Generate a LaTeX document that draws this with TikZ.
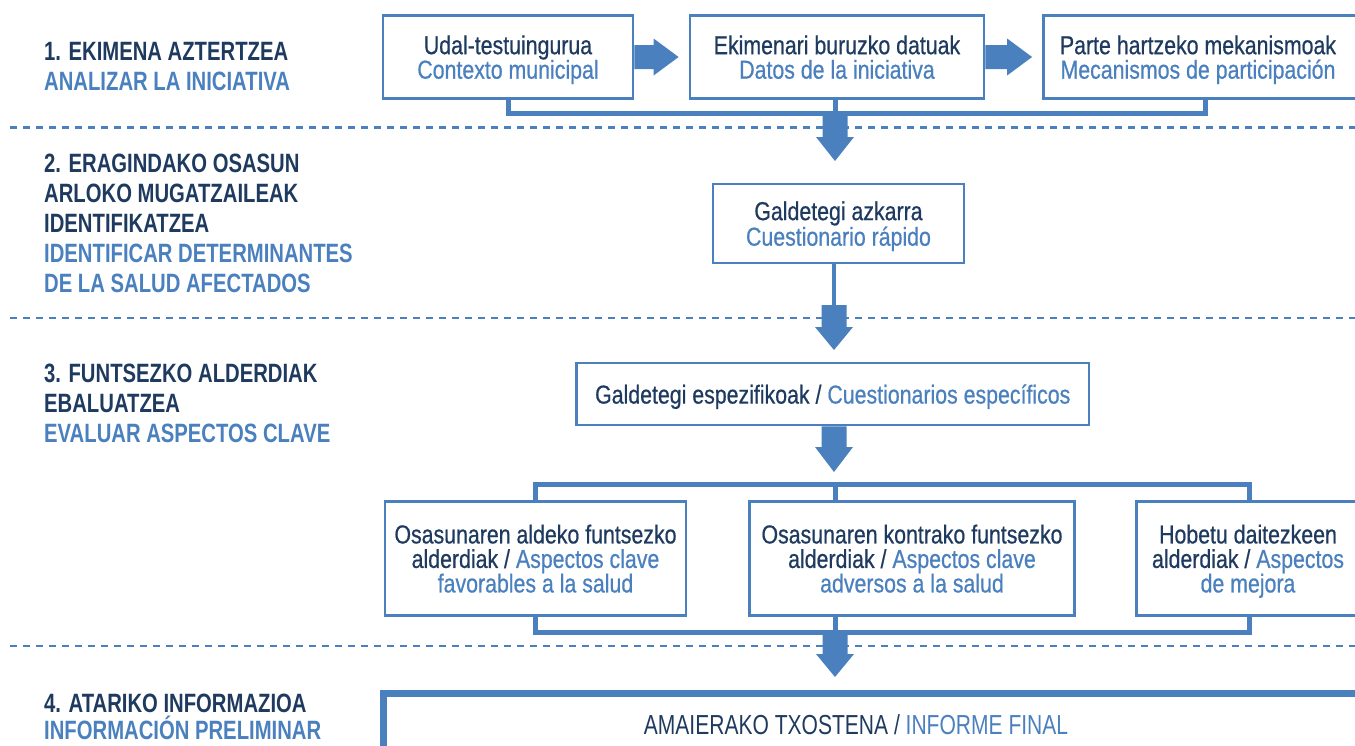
\documentclass[tikz,border=0pt]{standalone}
\usepackage{fontspec}
\setmainfont{Liberation Sans}[FakeStretch=0.82, FakeBold=0.6]
\newfontfamily\labfont{Liberation Sans}[FakeStretch=0.765]
\usetikzlibrary{calc}
\definecolor{navy}{RGB}{30,58,95}
\definecolor{flowblue}{RGB}{74,128,190}
\newcommand{\spn}[1]{\textcolor{flowblue}{#1}}
\newcommand{\blockdown}[3]{%
  \fill[flowblue] ($(#1)+(-12.5,0)$) -- ($(#1)+(12.5,0)$) -- ($(#2)+(12.5,-#3)$) -- ($(#2)+(19,-#3)$) -- (#2) -- ($(#2)+(-19,-#3)$) -- ($(#2)+(-12.5,-#3)$) -- cycle;}
\newcommand{\blockright}[3]{%
  \fill[flowblue] ($(#1)+(0,-12)$) -- ($(#2)+(-#3,-12)$) -- ($(#2)+(-#3,-18.5)$) -- (#2) -- ($(#2)+(-#3,18.5)$) -- ($(#2)+(-#3,12)$) -- ($(#1)+(0,12)$) -- cycle;}
\tikzset{
  stage/.style={anchor=north west, inner sep=0pt, align=left, text=navy, font=\labfont\bfseries\fontsize{26.5}{30}\selectfont},
  box/.style={draw=flowblue, line width=2.8pt, rectangle, inner sep=0pt, align=center, text=navy, text depth=0pt, font=\fontsize{26}{24.5}\selectfont},
  boxtext/.style={inner sep=0pt, align=center, text=navy, text depth=0pt, font=\fontsize{26}{24.5}\selectfont},
  conn/.style={draw=flowblue, line width=5pt},
  thinconn/.style={draw=flowblue, line width=4pt},
  sep/.style={draw=flowblue, line width=2.7pt, dash pattern=on 7pt off 6pt},
}
\begin{document}
\begin{tikzpicture}[x=1pt,y=-1pt]
\useasboundingbox (0,0) rectangle (1355,745);
\clip (0,0) rectangle (1355,745);

% separators
\draw[sep] (10,127.7) -- (1360,127.7);
\draw[sep] (10,318) -- (1360,318);
\draw[sep] (10,646) -- (1360,646);

% stage labels
\node[stage] (lab1) at (44,41.7) {1. EKIMENA AZTERTZEA\\\spn{ANALIZAR LA INICIATIVA}};
\node[stage] (lab2) at (44,153.7) {2. ERAGINDAKO OSASUN\\ARLOKO MUGATZAILEAK\\IDENTIFIKATZEA\\\spn{IDENTIFICAR DETERMINANTES}\\\spn{DE LA SALUD AFECTADOS}};
\node[stage] (lab3) at (44,364) {3. FUNTSEZKO ALDERDIAK\\EBALUATZEA\\\spn{EVALUAR ASPECTOS CLAVE}};
\node[stage, font=\labfont\bfseries\fontsize{26.5}{27.5}\selectfont] (lab4) at (44,693.7) {4. ATARIKO INFORMAZIOA\\\spn{INFORMACIÓN PRELIMINAR}};

% row 1
\node[box, minimum width=250pt, minimum height=83pt] (box1) at (508,57) {Udal-testuingurua\\\spn{Contexto municipal}};
\node[box, minimum width=294pt, minimum height=83pt] (box2) at (837,57) {Ekimenari buruzko datuak\\\spn{Datos de la iniciativa}};
\node[box, minimum width=356.5pt, minimum height=83pt] (box3) at (1221.75,57) {};
\node[boxtext] (t3) at (1198,57) {Parte hartzeko mekanismoak\\\spn{Mecanismos de participación}};

\coordinate (a1tip) at ($(box2.west)+(-10,0)$);
\coordinate (a2tip) at ($(box3.west)+(-10,0)$);
\blockright{box1.east}{a1tip}{25}
\blockright{box2.east}{a2tip}{25}

\coordinate (j1) at (835,113.7);
\coordinate (x3) at (1205,0);
\coordinate (c3) at (box3.south -| x3);
\draw[conn] (box1.south) |- (j1) -| (c3);
\draw[conn] (j1 |- box2.south) -- (j1);
\coordinate (t1) at (835,161);
\blockdown{j1}{t1}{24}

% row 2
\node[box, minimum width=251pt, minimum height=79pt] (q1) at (838.5,223.5) {Galdetegi azkarra\\\spn{Cuestionario rápido}};
\coordinate (s2) at (834,305);
\coordinate (t2) at (834,350);
\draw[thinconn] (s2 |- q1.south) -- (s2);
\blockdown{s2}{t2}{23}

% row 3
\node[box, minimum width=512.5pt, minimum height=62pt] (q2) at (832.75,394) {Galdetegi espezifikoak / \spn{Cuestionarios específicos}};
\coordinate (t3a) at (834,472);
\coordinate (s3) at (q2.south -| t3a);
\blockdown{s3}{t3a}{25}

% row 4 boxes
\node[box, minimum width=301pt, minimum height=114pt] (bA) at (535.5,558.5) {Osasunaren aldeko funtsezko\\alderdiak / \spn{Aspectos clave}\\\spn{favorables a la salud}};
\node[box, minimum width=325pt, minimum height=114pt] (bB) at (912,558.5) {Osasunaren kontrako funtsezko\\alderdiak / \spn{Aspectos clave}\\\spn{adversos a la salud}};
\node[box, minimum width=263.5pt, minimum height=114pt] (bC) at (1268.25,558.5) {};
\node[boxtext] (tC) at (1248,558.5) {Hobetu daitezkeen\\alderdiak / \spn{Aspectos}\\\spn{de mejora}};

\coordinate (j2) at (835,484);
\coordinate (xC) at (1249,0);
\coordinate (cCt) at (bC.north -| xC);
\coordinate (cCb) at (bC.south -| xC);
\draw[conn] (bA.north) |- (j2) -| (cCt);
\draw[conn] (j2) -- (j2 |- bB.north);
\coordinate (j3) at (835,632);
\draw[conn] (bA.south) |- (j3) -| (cCb);
\draw[conn] (j3 |- bB.south) -- (j3);
\coordinate (t4) at (835,677);
\blockdown{j3}{t4}{23}

% final box
\node[draw=flowblue, line width=6.5pt, rectangle, inner sep=0pt, minimum width=1016.7pt, minimum height=106.7pt] (bF) at (891.65,746.65) {};
\node[boxtext, anchor=base, font=\labfont\fontsize{27.5}{27.5}\selectfont] (tF) at (856,734) {AMAIERAKO TXOSTENA / \spn{INFORME FINAL}};
\end{tikzpicture}
\end{document}
